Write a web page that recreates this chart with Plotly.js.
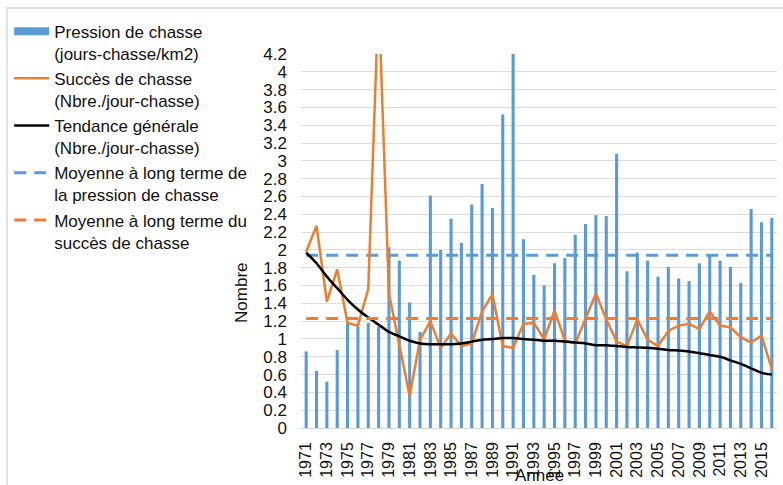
<!DOCTYPE html>
<html>
<head>
<meta charset="utf-8">
<script src="https://cdn.plot.ly/plotly-3.0.1.min.js"></script>
<style>html,body{margin:0;padding:0;background:#fff;}#chart{width:783px;height:485px;}</style>
</head>
<body>
<div id="chart"></div>
<script>
const years = [1971,1972,1973,1974,1975,1976,1977,1978,1979,1980,
  1981,1982,1983,1984,1985,1986,1987,1988,1989,1990,
  1991,1992,1993,1994,1995,1996,1997,1998,1999,2000,
  2001,2002,2003,2004,2005,2006,2007,2008,2009,2010,
  2011,2012,2013,2014,2015,2016];
const pression = [0.86,0.64,0.52,0.875,1.18,1.14,1.18,1.14,2.03,1.88,
  1.41,1.08,2.61,2.00,2.35,2.08,2.51,2.74,2.47,3.52,
  4.2,2.12,1.72,1.60,1.85,1.91,2.17,2.29,2.39,2.38,
  3.08,1.76,1.97,1.88,1.70,1.81,1.68,1.65,1.85,1.94,
  1.88,1.81,1.63,2.46,2.31,2.36];
const succes = [1.98,2.27,1.42,1.78,1.18,1.15,1.56,4.85,1.51,0.95,
  0.36,0.99,1.20,0.90,1.06,0.92,0.95,1.31,1.50,0.92,
  0.90,1.17,1.18,1.00,1.32,0.98,0.95,1.23,1.51,1.22,
  0.97,0.92,1.22,0.99,0.92,1.09,1.15,1.17,1.11,1.31,
  1.15,1.13,1.02,0.96,1.04,0.66];
const tendance = [1.97,1.85,1.70,1.57,1.44,1.33,1.24,1.16,1.08,1.03,
  0.98,0.95,0.94,0.94,0.94,0.95,0.97,0.99,1.00,1.01,
  1.01,1.00,0.99,0.98,0.98,0.97,0.96,0.95,0.93,0.93,
  0.92,0.91,0.905,0.90,0.89,0.875,0.87,0.86,0.84,0.82,
  0.80,0.76,0.72,0.67,0.62,0.60];
const moyennePression = 1.94;
const moyenneSucces = 1.23;
const tickYears = [1971,1973,1975,1977,1979,1981,1983,1985,1987,1989,1991,1993,
  1995,1997,1999,2001,2003,2005,2007,2009,2011,2013,2015];
const tickLabels = ["1971","1973","1975","1977","1979","1981","1983","1985","1987","1989","1991","1993",
  "1995","1997","1999","2001","2003","2005","2007","2009","2011","2013","2015"];
const names = [
  "Pression de chasse<br>(jours-chasse/km2)",
  "Succès de chasse<br>(Nbre./jour-chasse)",
  "Tendance générale<br>(Nbre./jour-chasse)",
  "Moyenne à long terme de<br>la pression de chasse",
  "Moyenne à long terme du<br>succès de chasse"
];

const BLUE = "#5b9bd5", ORANGE = "#ed7d31";
const FONT = "Liberation Sans, Arial, sans-serif";
const xEnds = [years[0], years[years.length-1]];

const traces = [
  {type:"bar", x:years, y:pression, width:0.3, marker:{color:BLUE}, showlegend:false, name:names[0]},
  {type:"scatter", mode:"lines", x:[null], y:[null], name:names[0], line:{color:BLUE, width:8}, legendrank:1},
  {type:"scatter", mode:"lines", x:xEnds, y:[moyennePression, moyennePression], name:names[3],
    line:{color:BLUE, width:3, dash:"12px,8px"}, legendrank:4},
  {type:"scatter", mode:"lines", x:years, y:succes, name:names[1], line:{color:ORANGE, width:2.5}, legendrank:2},
  {type:"scatter", mode:"lines", x:years, y:tendance, name:names[2], line:{color:"#000000", width:2.5, shape:"spline", smoothing:0.8}, legendrank:3},
  {type:"scatter", mode:"lines", x:xEnds, y:[moyenneSucces, moyenneSucces], name:names[4],
    line:{color:ORANGE, width:3, dash:"12px,8px"}, legendrank:5}
];

const layout = {
  width:783, height:485,
  margin:{l:301, r:6, t:54, b:57},
  paper_bgcolor:"#ffffff", plot_bgcolor:"#ffffff",
  font:{family:FONT, size:16, color:"#111111"},
  showlegend:true,
  legend:{x:-0.613, xanchor:"left", y:1.108, yanchor:"top", bgcolor:"rgba(0,0,0,0)",
    font:{family:FONT, size:17, color:"#111111"}, valign:"top", itemwidth:35, tracegroupgap:0, traceorder:"normal"},
  xaxis:{range:[1970.5, 2016.5], tickmode:"array", tickvals:tickYears, ticktext:tickLabels,
    tickangle:-90, showgrid:false, zeroline:false, showline:false, ticks:"",
    tickfont:{family:FONT, size:16, color:"#111111"}, ticklabelstandoff:10},
  yaxis:{range:[0, 4.2], dtick:0.2, tick0:0, showgrid:true, gridcolor:"#dcdcdc", gridwidth:1,
    zeroline:true, zerolinecolor:"#d9d9d9", zerolinewidth:1, showline:false, ticks:"",
    tickfont:{family:FONT, size:17, color:"#111111"}, ticklabelstandoff:13},
  annotations:[
    {text:"Nombre", xref:"paper", yref:"paper", x:-0.124, y:0.361, textangle:-90,
      showarrow:false, font:{family:FONT, size:17, color:"#111111"}, xanchor:"center", yanchor:"middle"},
    {text:"Année", xref:"paper", yref:"paper", x:0.502, y:(428-475)/374, showarrow:false,
      font:{family:FONT, size:17, color:"#111111"}, xanchor:"center", yanchor:"middle"}
  ],
  shapes:[
    {type:"line", xref:"paper", yref:"paper", x0:(5-301)/476, x1:(783-301)/476, y0:(428-8)/374, y1:(428-8)/374,
      line:{color:"#d9d9d9", width:1.5}},
    {type:"line", xref:"paper", yref:"paper", x0:(7-301)/476, x1:(7-301)/476, y0:(428-8)/374, y1:(428-485)/374,
      line:{color:"#d9d9d9", width:1.5}}
  ]
};

Plotly.newPlot("chart", traces, layout, {displayModeBar:false, staticPlot:true});
</script>
</body>
</html>
